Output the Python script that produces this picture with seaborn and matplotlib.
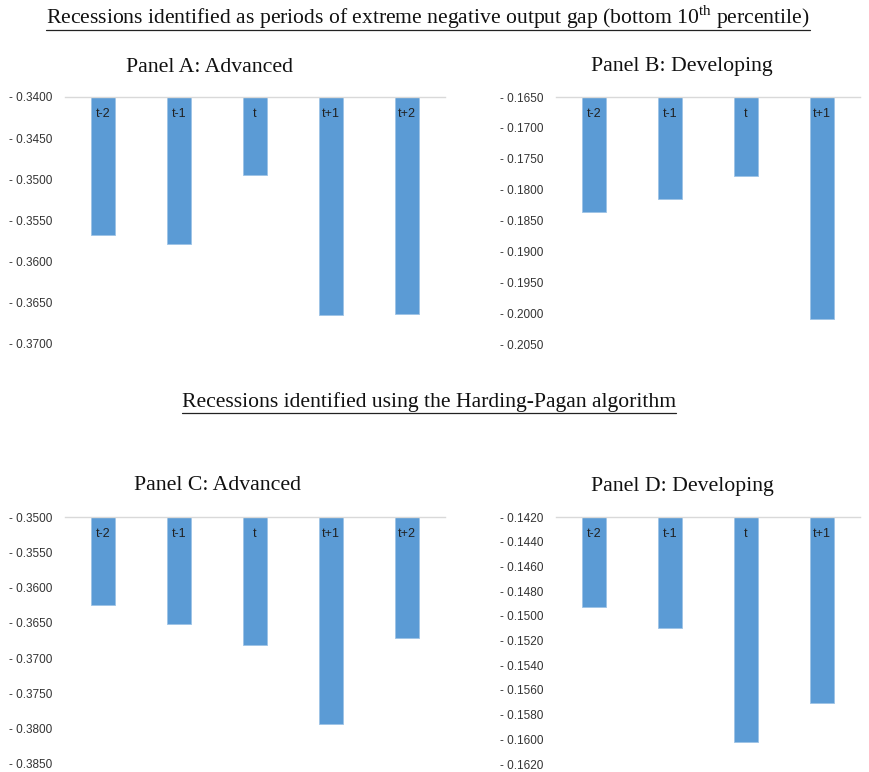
import matplotlib
matplotlib.use("Agg")
import matplotlib.pyplot as plt
import seaborn as sns
import pandas as pd
from matplotlib.ticker import FuncFormatter, MultipleLocator
from matplotlib.lines import Line2D

sns.set_theme(style="white")
plt.rcParams["font.family"] = ["Liberation Sans", "DejaVu Sans"]
plt.rcParams["mathtext.fontset"] = "custom"
plt.rcParams["mathtext.rm"] = "Liberation Serif"

# ---- data ----
cats5 = ["t-2", "t-1", "t", "t+1", "t+2"]
cats4 = ["t-2", "t-1", "t", "t+1"]
panel_a = [-0.3568, -0.3578, -0.3495, -0.3665, -0.3663]
panel_b = [-0.1837, -0.1815, -0.1778, -0.2010]
panel_c = [-0.3624, -0.3652, -0.3682, -0.3794, -0.3671]
panel_d = [-0.1493, -0.1510, -0.1602, -0.1571]

titles = ["Panel A: Advanced", "Panel B: Developing",
          "Panel C: Advanced", "Panel D: Developing"]
heading1 = r"Recessions identified as periods of extreme negative output gap (bottom 10$^{\mathrm{th}}$ percentile)"
heading2 = "Recessions identified using the Harding-Pagan algorithm"

W, H = 869, 772
fig = plt.figure(figsize=(W / 100, H / 100), dpi=100)

def px_axes(x0, y0, x1, y1):
    return fig.add_axes([x0 / W, 1 - y1 / H, (x1 - x0) / W, (y1 - y0) / H])

BLUE = "#5B9BD5"
specs = [
    (panel_a, cats5, (65, 97, 445, 344), (-0.37, -0.34), 0.005, (209, 67)),
    (panel_b, cats4, (556, 97, 860, 344), (-0.205, -0.165), 0.005, (682, 67)),
    (panel_c, cats5, (65, 517, 445, 764), (-0.385, -0.35), 0.005, (217, 486)),
    (panel_d, cats4, (556, 517, 860, 764), (-0.162, -0.142), 0.002, (682, 486)),
]

fmt = FuncFormatter(lambda v, p: f"- {abs(v):.4f}")

for (vals, cats, box, ylim, step, tpos), title in zip(specs, titles):
    ax = px_axes(*box)
    df = pd.DataFrame({"cat": cats, "val": vals})
    sns.barplot(data=df, x="cat", y="val", ax=ax, color=BLUE, saturation=1,
                width=24 / 76, edgecolor="#9DC3E6", linewidth=0.6)
    ax.set_ylim(*ylim)
    ax.set_xlim(-0.5, len(cats) - 0.5)
    ax.yaxis.set_major_locator(MultipleLocator(step))
    ax.yaxis.set_major_formatter(fmt)
    ax.tick_params(axis="y", length=0, labelsize=8.5, colors="#333333", pad=9)
    ax.tick_params(axis="x", length=0)
    ax.set_xticks([])
    ax.set_xlabel("")
    ax.set_ylabel("")
    for s in ["left", "right", "bottom"]:
        ax.spines[s].set_visible(False)
    ax.spines["top"].set_visible(True)
    ax.spines["top"].set_color("#D9D9D9")
    ax.spines["top"].set_linewidth(1.0)
    for i, c in enumerate(cats):
        ax.annotate(c, xy=(i, ylim[1]), xytext=(0, -17), textcoords="offset pixels",
                    ha="center", va="center", fontsize=9, color="#202020")
    fig.text(tpos[0] / W, 1 - tpos[1] / H, title, ha="center", va="center",
             fontsize=15.7, family="Liberation Serif", color="#111111")

def heading(text, cx, cy, uy):
    t = fig.text(cx / W, 1 - cy / H, text, ha="center", va="center",
                 fontsize=15.6, family="Liberation Serif", color="#111111")
    fig.canvas.draw()
    bb = t.get_window_extent()
    fig.add_artist(Line2D([bb.x0 / W, bb.x1 / W], [1 - uy / H, 1 - uy / H],
                          color="#222222", linewidth=0.9))

heading(heading1, 428, 17, 30)
heading(heading2, 429, 402, 413)

fig.savefig("out.png", dpi=100)
